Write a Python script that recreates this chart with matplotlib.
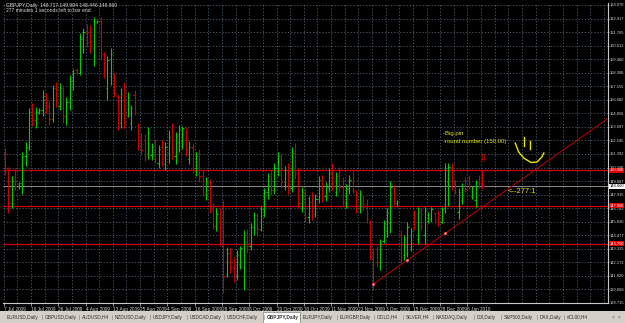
import matplotlib
matplotlib.use("Agg")
import matplotlib.pyplot as plt
import numpy as np

plt.rcParams["font.family"] = ["Liberation Sans", "DejaVu Sans"]

# GBPJPY daily bars, 7 Jul 2009 .. 12 Jan 2010
opens = [151.5, 150.0, 147.2, 149.1, 148.7, 148.9, 151.2, 152.0, 155.0, 154.3,
         155.0, 155.1, 156.3, 155.5, 154.4, 157.0, 155.5, 157.0, 154.6, 155.8,
         157.6, 158.5, 158.3, 161.2, 161.8, 160.9, 160.4, 162.6, 162.7, 159.9,
         157.0, 158.0, 158.0, 156.3, 154.0, 156.9, 154.6, 154.0, 156.4, 153.8,
         152.5, 152.6, 151.4, 151.3, 152.5, 150.6, 152.0, 150.5, 151.5, 153.5,
         151.2, 152.4, 152.5, 153.3, 151.0, 152.0, 150.2, 151.2, 149.5, 148.0,
         149.0, 146.8, 145.3, 146.3, 146.9, 141.2, 143.0, 141.8, 141.0, 142.0,
         141.0, 144.5, 143.6, 145.2, 146.2, 145.0, 146.7, 148.2, 149.5, 148.3,
         150.2, 151.2, 149.0, 150.0, 148.5, 151.5, 149.8, 147.2, 148.2, 146.0,
         147.3, 146.3, 147.6, 149.2, 147.8, 148.6, 149.8, 148.2, 149.5, 148.6,
         147.2, 148.4, 149.0, 148.0, 146.8, 147.8, 147.0, 145.5, 143.0, 143.3,
         141.9, 144.0, 144.8, 145.5, 148.5, 147.2, 144.5, 142.8, 143.0, 143.5,
         146.4, 144.2, 146.5, 144.5, 145.7, 145.9, 146.4, 146.3, 145.6, 146.8,
         149.0, 150.3, 149.0, 146.5, 147.5, 149.2, 149.4, 147.8, 147.5, 149.0,
         148.717]
highs = [151.9, 150.3, 149.5, 150.2, 149.0, 151.6, 152.4, 155.3, 155.7, 155.4,
         155.3, 156.8, 156.6, 155.9, 157.3, 157.5, 157.4, 157.1, 156.2, 158.1,
         158.6, 158.7, 161.7, 162.1, 162.45, 162.37, 163.05, 162.8, 163.05, 160.1,
         159.7, 160.4, 158.3, 156.5, 157.0, 157.5, 156.7, 155.6, 156.8, 154.0,
         153.2, 153.1, 153.7, 152.3, 152.7, 152.2, 152.6, 152.4, 153.4, 154.0,
         153.3, 153.9, 153.8, 153.7, 152.5, 152.3, 151.6, 151.8, 150.0, 149.4,
         149.3, 147.2, 146.8, 146.8, 147.5, 143.5, 143.4, 142.6, 143.2, 143.6,
         144.9, 145.0, 145.5, 146.5, 146.4, 147.0, 148.5, 149.8, 150.0, 150.6,
         151.6, 151.4, 150.4, 150.6, 152.0, 152.3, 150.2, 148.6, 148.5, 147.8,
         148.2, 148.0, 149.5, 149.6, 149.0, 150.2, 150.6, 149.9, 150.3, 149.4,
         148.8, 149.6, 150.0, 148.33, 148.33, 147.9, 147.6, 145.8, 143.4, 143.6,
         144.2, 145.8, 146.8, 149.1, 148.75, 147.5, 144.9, 144.5, 145.6, 145.1,
         146.6, 146.9, 146.8, 146.9, 146.5, 146.9, 146.5, 146.6, 146.9, 150.6,
         150.6, 150.6, 149.2, 148.5, 148.9, 149.4, 149.6, 148.7, 149.2, 149.6,
         149.994]
lows = [149.6, 146.4, 146.8, 148.3, 148.4, 148.0, 150.4, 151.7, 153.8, 153.6,
        154.8, 154.6, 154.9, 153.9, 154.1, 155.4, 155.1, 154.0, 153.9, 155.1,
        156.8, 158.2, 158.1, 160.0, 160.5, 160.0, 158.9, 162.5, 159.4, 157.9,
        156.0, 157.3, 156.2, 153.4, 153.6, 153.6, 154.5, 153.4, 154.7, 151.7,
        151.3, 150.8, 151.0, 150.9, 150.6, 150.2, 150.4, 150.0, 150.6, 151.0,
        150.5, 151.6, 151.8, 151.2, 150.5, 149.8, 149.5, 149.0, 147.8, 147.5,
        146.4, 145.0, 144.8, 143.6, 139.6, 140.9, 141.3, 140.5, 140.7, 141.6,
        139.8, 143.0, 143.2, 144.5, 144.4, 144.8, 146.0, 147.6, 147.9, 148.0,
        149.5, 148.5, 148.3, 148.0, 148.2, 149.3, 146.8, 146.5, 145.6, 145.5,
        145.8, 146.0, 147.2, 147.3, 147.4, 148.2, 148.3, 147.8, 148.2, 147.0,
        146.8, 148.0, 148.1, 146.4, 146.4, 146.6, 145.5, 142.4, 139.8, 141.8,
        141.5, 143.8, 144.3, 144.7, 147.05, 147.0, 142.1, 142.4, 142.6, 143.1,
        144.9, 143.7, 144.9, 143.7, 145.5, 145.6, 145.5, 145.3, 145.5, 146.4,
        147.0, 148.3, 148.0, 145.9, 147.1, 148.2, 148.3, 147.6, 146.9, 148.5,
        148.446]
closes = [150.0, 147.2, 149.1, 148.7, 148.9, 151.2, 152.0, 155.0, 154.3, 155.0,
          155.1, 156.3, 155.5, 154.4, 157.0, 155.9, 157.0, 154.6, 155.8, 157.6,
          158.3, 158.3, 161.2, 161.8, 160.9, 160.4, 162.6, 162.7, 159.9, 158.5,
          159.4, 159.9, 156.6, 153.9, 156.5, 154.1, 156.2, 155.3, 155.0, 152.2,
          151.7, 151.2, 153.2, 152.0, 151.0, 151.8, 150.8, 152.0, 152.8, 151.6,
          152.9, 153.5, 153.6, 151.8, 152.0, 150.2, 151.2, 149.5, 148.2, 149.0,
          146.8, 145.3, 146.3, 144.0, 141.0, 143.0, 141.8, 141.0, 142.8, 143.4,
          144.5, 143.6, 145.2, 146.2, 145.0, 146.7, 148.2, 149.5, 148.3, 150.2,
          151.2, 149.0, 150.0, 148.5, 151.5, 149.8, 147.2, 148.2, 146.0, 147.3,
          146.3, 147.6, 149.2, 147.8, 148.6, 149.8, 148.7, 149.5, 148.6, 147.4,
          148.4, 149.2, 148.3, 146.8, 148.0, 146.9, 145.9, 142.9, 140.4, 142.2,
          143.8, 145.5, 146.4, 148.6, 147.4, 147.4, 142.6, 144.2, 145.2, 144.8,
          145.2, 146.5, 145.3, 146.6, 146.3, 146.7, 145.7, 145.6, 146.7, 150.2,
          150.3, 148.6, 148.2, 148.2, 148.7, 148.4, 148.6, 148.5, 149.0, 148.9,
          148.660]

date_labels = ["7 Jul 2009", "16 Jul 2009", "26 Jul 2009", "4 Aug 2009",
               "13 Aug 2009", "25 Aug 2009", "4 Sep 2009", "16 Sep 2009",
               "28 Sep 2009", "8 Oct 2009", "20 Oct 2009", "30 Oct 2009",
               "11 Nov 2009", "23 Nov 2009", "3 Dec 2009", "15 Dec 2009",
               "28 Dec 2009", "6 Jan 2010"]

price_top = 164.070
price_step = 1.1525
n_prices = 23

levels = [150.000, 147.000, 143.750]
last_price = 148.660

trend_start_bar = 108
trend_start_price = 140.33
trend_slope = 0.2048        # price per bar
trend_marks = [108, 118, 129]

tabs = ["EURUSD,Daily", "GBPUSD,Daily", "AUDUSD,H4", "NZDUSD,Daily",
        "USDJPY,Daily", "USDCAD,Daily", "USDCHF,Daily", "GBPJPY,Daily",
        "EURJPY,Daily", "EURGBP,Daily", "GOLD,H4", "SILVER,H4",
        "NASDAQ,Daily", "DJI,Daily", "S&P500,Daily", "DAX,Daily", "#CL00,H4"]
tab_x = [7, 45, 82, 115, 153, 190, 227, 267, 303, 340, 377, 406, 436, 477,
         504, 540, 567]

W, H = 625, 323
fig = plt.figure(figsize=(W / 100, H / 100), dpi=100, facecolor="black")
ax = fig.add_axes([3 / W, 1 - 303 / H, 605 / W, 300 / H], facecolor="black")

n = len(opens)
xs = np.arange(n)
price_labels = [price_top - price_step * k for k in range(n_prices)]
ax.set_xlim(-0.6, 176.8)
ax.set_ylim(price_labels[-1], price_top + 0.17)

grid_kw = dict(color="#5d6d80", lw=0.5, linestyle=(0, (2, 2.5)), zorder=0)
for p in price_labels:
    ax.axhline(p, **grid_kw)
for gx in np.arange(-0.4, 177, 4):
    ax.axvline(gx, **grid_kw)

# level lines and last price line
for lv in levels:
    ax.axhline(lv, color="#d00000", lw=0.9, zorder=1)
ax.axhline(last_price, color="#a0a0a0", lw=0.6, zorder=1)

# OHLC bars
for i in range(n):
    col = "#00cc00" if closes[i] >= opens[i] else "#cc0000"
    ax.vlines(xs[i], lows[i], highs[i], color=col, lw=0.8, zorder=3)
    ax.hlines(opens[i], xs[i] - 0.35, xs[i], color=col, lw=0.8, zorder=3)
    ax.hlines(closes[i], xs[i], xs[i] + 0.35, color=col, lw=0.8, zorder=3)

# trend line
tx = np.array([trend_start_bar, 176.8])
ty = trend_start_price + trend_slope * (tx - trend_start_bar)
ax.plot(tx, ty, color="#c00000", lw=0.7, zorder=4)
mx = np.array(trend_marks)
my = trend_start_price + trend_slope * (mx - trend_start_bar)
ax.plot(mx, my, "s", ms=2, mfc="#ffd0d0", mec="#ff4040", mew=0.4, zorder=5)

# annotations
yel = "#e6e600"
ax.text(128.5, 153.05, "-Big pin", color=yel, fontsize=4.3, zorder=6)
ax.text(128.5, 152.30, "-round number (150.00)", color=yel, fontsize=4.3, zorder=6)
ax.text(140.0, 151.0, "\u21e9", color="#e00000", fontsize=8, ha="center",
        va="center", family="DejaVu Sans", zorder=6)
ax.text(147.5, 148.2, "<--277:1", color=yel, fontsize=5.5, va="center", zorder=6)
ax.plot([152.3, 152.3], [152.85, 152.1], color=yel, lw=1.0)
ax.plot([153.9, 153.9], [152.5, 151.8], color=yel, lw=1.0)
ax.plot([149.6, 150.6, 152.1, 154.2, 156.0, 157.4, 158.0],
        [152.33, 151.56, 151.05, 150.67, 150.71, 151.14, 151.48],
        color=yel, lw=1.0)

# axes styling
for s in ["top", "left"]:
    ax.spines[s].set_visible(False)
for s in ["right", "bottom"]:
    ax.spines[s].set_color("#c8c8c8")
    ax.spines[s].set_linewidth(0.8)

ax.yaxis.tick_right()
ax.set_yticks(price_labels)
ax.set_yticklabels([f"{p:.3f}" for p in price_labels])
ax.tick_params(axis="y", colors="#c8c8c8", labelcolor="#d8d8d8", labelsize=2.9,
               length=1.0, width=0.5, pad=0.5)
tick_pos = [-0.4 + 8 * k for k in range(len(date_labels))]
ax.set_xticks(tick_pos)
ax.set_xticklabels(date_labels, ha="left")
ax.tick_params(axis="x", colors="#c8c8c8", labelcolor="#d8d8d8", labelsize=3.4,
               length=2, width=0.5, pad=1)

ytr = ax.get_yaxis_transform()
for lv in levels:
    ax.text(1.0025, lv, f"{lv:.3f}", transform=ytr, fontsize=2.9, color="white",
            va="center", ha="left", clip_on=False, zorder=10,
            bbox=dict(boxstyle="square,pad=0.15", fc="#e00000", ec="none"))
ax.text(1.0025, last_price, f"{last_price:.3f}", transform=ytr, fontsize=2.9,
        color="black", va="center", ha="left", clip_on=False, zorder=10,
        bbox=dict(boxstyle="square,pad=0.15", fc="white", ec="none"))

# header text
fig.text(6 / W, 1 - 5 / H, "GBPJPY,Daily  148.717 149.994 148.446 148.660",
         color="#d8d8d8", fontsize=3.6, va="center")
fig.text(6 / W, 1 - 11 / H, "277 minutes 1 seconds left to bar end",
         color="#d8d8d8", fontsize=3.6, va="center")

# bottom tab bar
tb = fig.add_axes([0, 0, 1, 12 / H], facecolor="#d4d0c8")
tb.set_xlim(0, W)
tb.set_ylim(0, 12)
tb.axis("off")
tb.add_patch(plt.Rectangle((0, 0), W, 12, fc="#d4d0c8", ec="none"))
tb.add_patch(plt.Rectangle((263, 0.5), 37, 11, fc="white", ec="#808080", lw=0.5))
for name, x0 in zip(tabs, tab_x):
    tb.text(x0, 6, name, fontsize=3.4, color="#303030", va="center",
            fontweight="bold" if name == "GBPJPY,Daily" else "normal")
for b in tab_x[1:]:
    tb.text(b - 3, 6, "|", fontsize=3.4, color="#707070", va="center")
tb.text(612, 6, "<", fontsize=3.4, color="#505050", va="center")
tb.text(618, 6, ">", fontsize=3.4, color="#505050", va="center")

fig.savefig("out.png", dpi=100, facecolor="black")
